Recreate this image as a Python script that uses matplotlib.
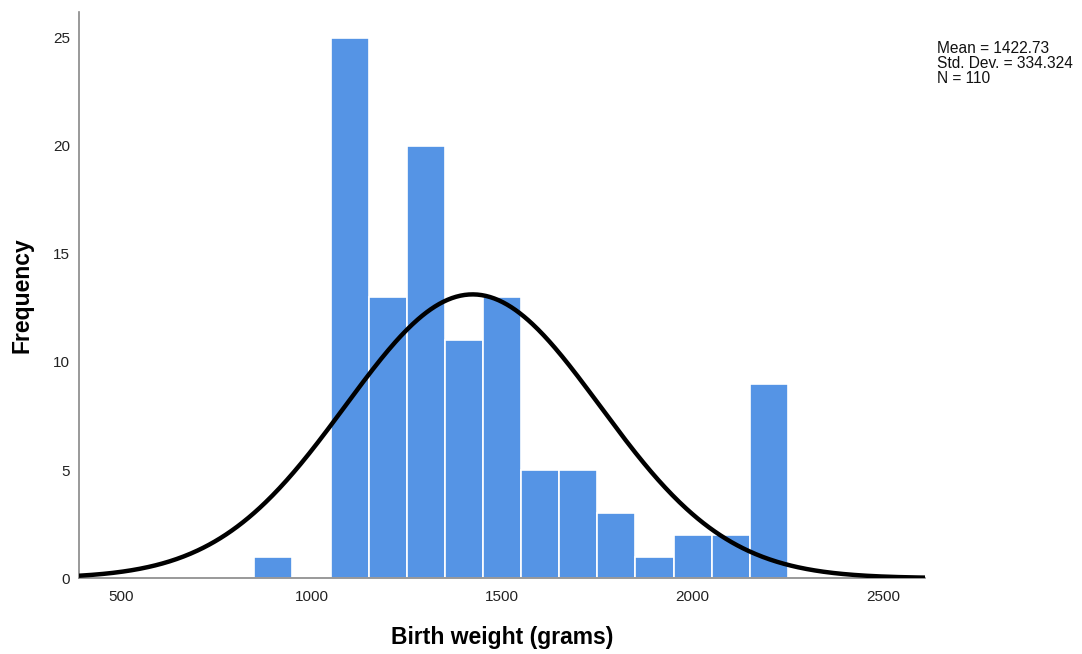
import numpy as np
import matplotlib
matplotlib.use("Agg")
import matplotlib.pyplot as plt

plt.rcParams['font.family'] = ['Liberation Sans', 'DejaVu Sans']

bin_edges = [850, 950, 1050, 1150, 1250, 1350, 1450, 1550, 1650, 1750, 1850, 1950, 2050, 2150, 2250]
counts = [1, 0, 25, 13, 20, 11, 13, 5, 5, 3, 1, 2, 2, 9]
mean = 1422.73
sd = 334.324
n = 110
x_ticks = [500, 1000, 1500, 2000, 2500]
y_ticks = [0, 5, 10, 15, 20, 25]

fig = plt.figure(figsize=(10.82, 6.54), dpi=100)
ax = fig.add_axes([0.073, 0.116, 0.782, 0.866])

lefts = np.array(bin_edges[:-1])
widths = np.diff(bin_edges)
ax.bar(lefts, counts, width=widths, align='edge', color='#5594E5',
       edgecolor='white', linewidth=1.2, zorder=2)

xlim = (390, 2610)
xs = np.linspace(xlim[0], xlim[1], 600)
bw = widths[0]
ys = n * bw * np.exp(-0.5 * ((xs - mean) / sd) ** 2) / (sd * np.sqrt(2 * np.pi))
ax.plot(xs, ys, color='black', linewidth=3.2, zorder=3, solid_capstyle='butt')

ax.set_xlim(*xlim)
ax.set_ylim(0, 26.2)
ax.set_xticks(x_ticks)
ax.set_yticks(y_ticks)
ax.tick_params(length=0, labelsize=11, colors='#222222')
ax.tick_params(axis='x', pad=8.5)
ax.tick_params(axis='y', pad=6.5)
for s in ['top', 'right']:
    ax.spines[s].set_visible(False)
for s in ['left', 'bottom']:
    ax.spines[s].set_color('#888888')
    ax.spines[s].set_linewidth(1.2)

ax.set_xlabel('Birth weight (grams)', fontsize=16.5, fontweight='bold', labelpad=16)
ax.set_ylabel('Frequency', fontsize=16.5, fontweight='bold', labelpad=14)

fig.text(937 / 1082, 1 - 41 / 654,
         f'Mean = {mean:.2f}\nStd. Dev. = {sd:.3f}\nN = {n}',
         fontsize=11.2, va='top', ha='left', linespacing=1.0, color='#111111')

fig.savefig('out.png', dpi=100)
